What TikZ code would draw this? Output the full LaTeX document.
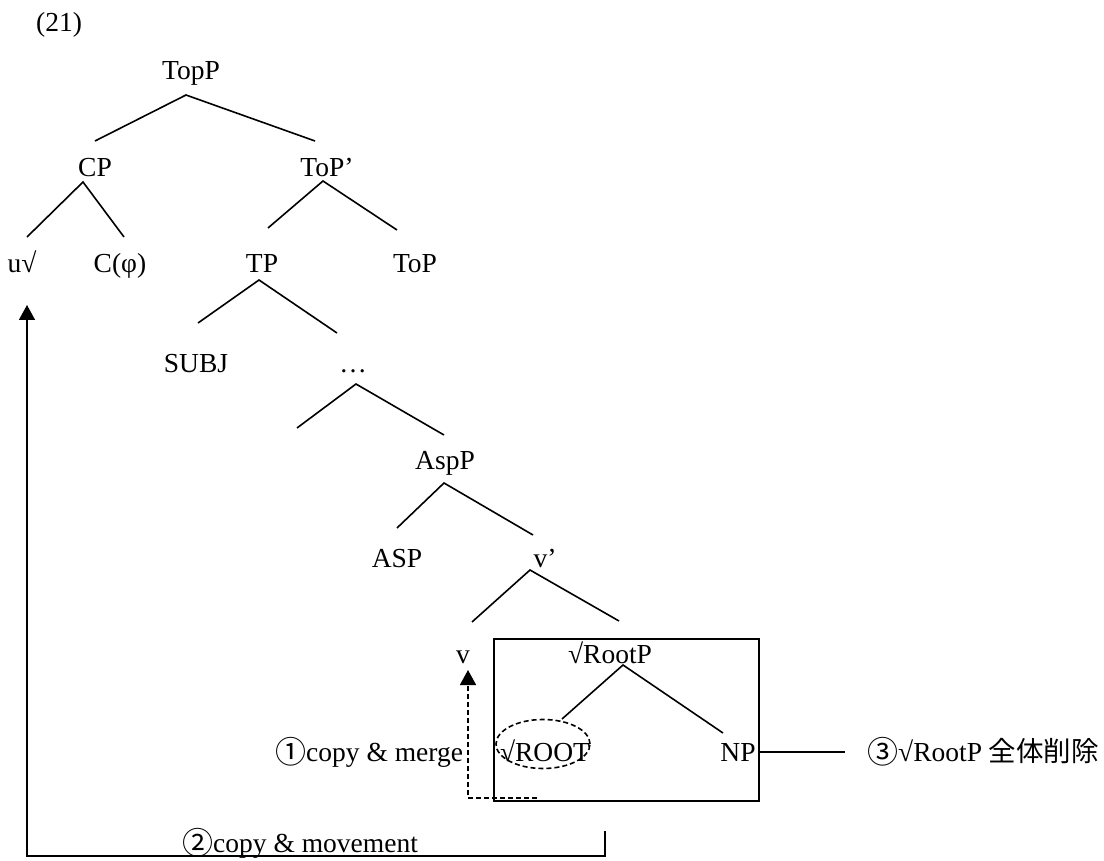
\documentclass[tikz,border=0pt]{standalone}
\usepackage{fontspec}
\setmainfont{Liberation Serif}
\newfontfamily\cjk{Noto Sans CJK JP}
\newcommand{\circnum}[1]{\raisebox{-2pt}{\fontsize{31pt}{30pt}\cjk #1}}
\usetikzlibrary{arrows.meta,shapes.geometric}
\begin{document}
\begin{tikzpicture}[x=1pt,y=-1pt,
  lbl/.style={font=\fontsize{27.5pt}{30pt}\selectfont, inner sep=0pt, anchor=base},
  lblw/.style={lbl, anchor=base west},
  branch/.style={line width=1.6pt},
  boxline/.style={line width=1.8pt},
  dashline/.style={line width=1.6pt, dash pattern=on 5pt off 3pt},
  tip/.style={-{Triangle[width=16pt,length=15pt]}}
]
\useasboundingbox (0,0) rectangle (1104,861);
% labels
\node[lbl] (ex) at (59,32) {(21)};
\node[lbl] (TopP) at (191,80) {TopP};
\node[lbl] (CP) at (95,177) {CP};
\node[lbl] (ToPbar) at (327,177) {ToP’};
\node[lbl] (uv) at (22,273) {u√};
\node[lbl] (Cphi) at (120,273) {C(φ)};
\node[lbl] (TP) at (262,273) {TP};
\node[lbl] (ToP) at (415,273) {ToP};
\node[lbl] (SUBJ) at (196,372) {SUBJ};
\node[lbl] (dots) at (353,373) {…};
\node[lbl] (AspP) at (445,469) {AspP};
\node[lbl] (ASP) at (397,567) {ASP};
\node[lbl] (vbar) at (545,567) {v’};
\node[lbl] (v) at (463,663) {v};
\node[lbl] (RootP) at (610,663) {√RootP};
\node[lbl] (ROOT) at (545,761) {√ROOT};
\node[lbl] (NP) at (738,761) {NP};
\node[lblw] (m1) at (275,761) {\circnum{①}copy \& merge};
\node[lblw] (m3) at (867,761) {\circnum{③}√RootP {\cjk 全体削除}};
\node[lblw] (m2) at (182,852) {\circnum{②}copy \& movement};
% branch end points
\coordinate (TopP-b) at (186,95);
\coordinate (CP-t) at (95,141);
\coordinate (ToPbar-t) at (315,141);
\coordinate (CP-b) at (83,182);
\coordinate (uv-t) at (27,237);
\coordinate (Cphi-t) at (124,237);
\coordinate (ToPbar-b) at (323,181);
\coordinate (TP-t) at (268,228);
\coordinate (ToP-t) at (397,230);
\coordinate (TP-b) at (259,280);
\coordinate (SUBJ-t) at (198,323);
\coordinate (dots-t) at (337,333);
\coordinate (dots-b) at (356,384);
\coordinate (empty-t) at (297,428);
\coordinate (AspP-t) at (444,435);
\coordinate (AspP-b) at (444,483);
\coordinate (ASP-t) at (397,528);
\coordinate (vbar-t) at (533,535);
\coordinate (vbar-b) at (530,570);
\coordinate (v-t) at (472,622);
\coordinate (RootP-t) at (619,621);
\coordinate (RootP-b) at (623,665);
\coordinate (ROOT-t) at (562,719);
\coordinate (NP-t) at (723,733);
% branches
\draw[branch] (CP-t) -- (TopP-b) -- (ToPbar-t);
\draw[branch] (uv-t) -- (CP-b) -- (Cphi-t);
\draw[branch] (TP-t) -- (ToPbar-b) -- (ToP-t);
\draw[branch] (SUBJ-t) -- (TP-b) -- (dots-t);
\draw[branch] (empty-t) -- (dots-b) -- (AspP-t);
\draw[branch] (ASP-t) -- (AspP-b) -- (vbar-t);
\draw[branch] (v-t) -- (vbar-b) -- (RootP-t);
\draw[branch] (ROOT-t) -- (RootP-b) -- (NP-t);
% box and ellipse
\node[boxline, draw, minimum width=265pt, minimum height=162pt, inner sep=0pt, anchor=center] (box) at (626.5,720) {};
\node[dashline, draw, ellipse, minimum width=94pt, minimum height=49pt, inner sep=0pt, anchor=center] (ell) at (543,744) {};
% deletion line
\coordinate (del-r) at (845,752);
\draw[branch] (box.east |- del-r) -- (del-r);
% copy & merge arrow
\coordinate (cm-s) at (537,798);
\coordinate (cm-c) at (468,798);
\coordinate (v-arrow) at (468,670);
\draw[dashline, tip] (cm-s) -- (cm-c) -- (v-arrow);
% copy & movement arrow
\coordinate (mv-s) at (605,831);
\coordinate (mv-c1) at (605,856);
\coordinate (mv-c2) at (27,856);
\coordinate (uv-arrow) at (27,305);
\draw[branch, tip] (mv-s) -- (mv-c1) -- (mv-c2) -- (uv-arrow);
\end{tikzpicture}
\end{document}
